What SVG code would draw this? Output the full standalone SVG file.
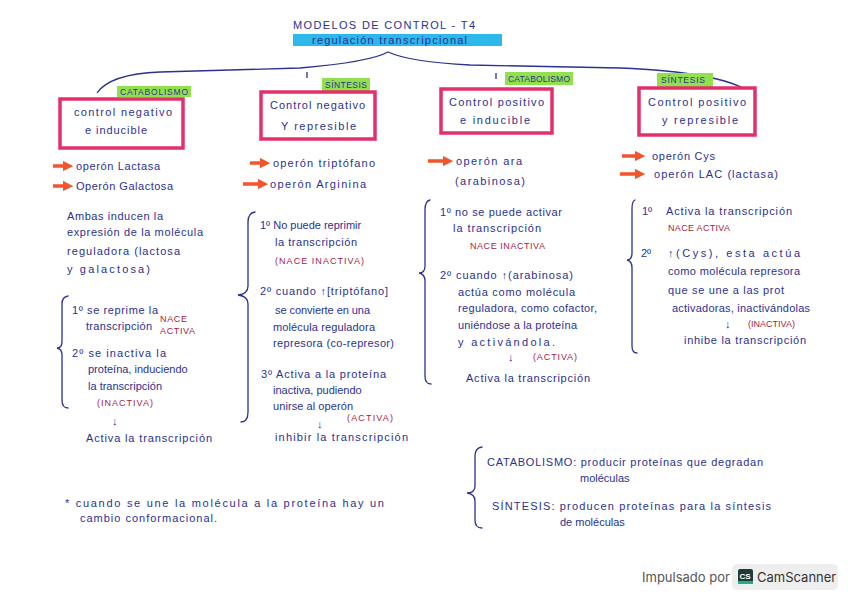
<svg xmlns="http://www.w3.org/2000/svg" width="848" height="599" viewBox="0 0 848 599">
<defs>
<style>
.t{font-family:"Liberation Sans",Arial,sans-serif;font-size:11px;fill:#2b3190}
.r{font-family:"Liberation Sans",Arial,sans-serif;font-size:9px;fill:#a3233f}
.g{font-family:"Liberation Sans",Arial,sans-serif;font-size:8.5px;fill:#2b3190}
.box{fill:#ffffff;stroke:#e3306a;stroke-width:3.5}
.hl{fill:#93e04f}
.br{fill:none;stroke:#2b3190;stroke-width:1.3;stroke-linecap:round}
.ar{stroke:#f2552b;stroke-width:3.5;fill:none}
.ln{fill:none;stroke:#2b3190;stroke-width:1.3}
</style>
<marker id="ah" viewBox="0 0 10 10" refX="5" refY="5" markerWidth="3" markerHeight="3" orient="auto"><path d="M0,0 L10,5 L0,10 z" fill="#f2552b"/></marker>
</defs>
<rect width="848" height="599" fill="#ffffff"/>

<g id="title">
<text class="t" x="293" y="29" font-size="12" textLength="182" lengthAdjust="spacing">MODELOS DE CONTROL - T4</text>
<rect x="293" y="34" width="209" height="12" fill="#2cb8ea"/>
<text class="t" x="312" y="44" textLength="155" lengthAdjust="spacing">regulación transcripcional</text>
</g>

<g id="connectors">
<path class="ln" d="M97,93 Q110,74 160,72 L300,68 Q370,62 388,52 Q410,62 470,65 L620,68 Q720,72 750,92"/>
<line class="ln" x1="307" y1="72" x2="307" y2="78"/>
<line class="ln" x1="496" y1="73" x2="496" y2="79"/>
</g>

<g id="tag-catabolismo-1"><rect class="hl" x="117" y="86" width="74" height="11"/><text class="g" x="120" y="95" textLength="68" lengthAdjust="spacing">CATABOLISMO</text></g>
<g id="tag-sintesis-1"><rect class="hl" x="322" y="78" width="48" height="13"/><text class="g" x="325" y="88" textLength="42" lengthAdjust="spacing">SÍNTESIS</text></g>
<g id="tag-catabolismo-2"><rect class="hl" x="505" y="72" width="68" height="13"/><text class="g" x="508" y="82" textLength="62" lengthAdjust="spacing">CATABOLISMO</text></g>
<g id="tag-sintesis-2"><rect class="hl" x="657" y="73" width="56" height="14"/><text class="g" x="661" y="83" textLength="44" lengthAdjust="spacing">SÍNTESIS</text></g>

<g id="box1"><rect class="box" x="60" y="99" width="123" height="49"/>
<text class="t" x="74" y="116" textLength="98" lengthAdjust="spacing">control negativo</text>
<text class="t" x="85" y="134" textLength="62" lengthAdjust="spacing">e inducible</text></g>
<g id="box2"><rect class="box" x="261" y="92" width="114" height="47"/>
<text class="t" x="270" y="109" textLength="95" lengthAdjust="spacing">Control negativo</text>
<text class="t" x="281" y="130" textLength="75" lengthAdjust="spacing">Y represible</text></g>
<g id="box3"><rect class="box" x="441" y="89" width="111" height="44"/>
<text class="t" x="449" y="106" textLength="95" lengthAdjust="spacing">Control positivo</text>
<text class="t" x="460" y="124" textLength="70" lengthAdjust="spacing">e inducible</text></g>
<g id="box4"><rect class="box" x="639" y="88" width="116" height="47"/>
<text class="t" x="648" y="106" textLength="98" lengthAdjust="spacing">Control positivo</text>
<text class="t" x="662" y="124" textLength="76" lengthAdjust="spacing">y represible</text></g>

<g id="col1">
<line class="ar" x1="53" y1="166" x2="68" y2="166" marker-end="url(#ah)"/>
<text class="t" x="76" y="170" textLength="84" lengthAdjust="spacing">operón Lactasa</text>
<line class="ar" x1="53" y1="186" x2="68" y2="186" marker-end="url(#ah)"/>
<text class="t" x="76" y="190" textLength="97" lengthAdjust="spacing">Operón Galactosa</text>
<text class="t" x="67" y="220" textLength="96" lengthAdjust="spacing">Ambas inducen la</text>
<text class="t" x="67" y="236" textLength="136" lengthAdjust="spacing">expresión de la molécula</text>
<text class="t" x="67" y="255" textLength="113" lengthAdjust="spacing">reguladora (lactosa</text>
<text class="t" x="67" y="273" textLength="83" lengthAdjust="spacing">y galactosa)</text>
<path class="br" d="M68,296 Q62,297 62,304 L62,342 Q62,348 57,348 Q62,349 62,355 L62,400 Q62,408 68,408"/>
<text class="t" x="72" y="314" textLength="86" lengthAdjust="spacing">1º se reprime la</text>
<text class="t" x="86" y="330" textLength="66" lengthAdjust="spacing">transcripción</text>
<text class="r" x="160" y="322" textLength="27" lengthAdjust="spacing">NACE</text>
<text class="r" x="160" y="334" textLength="35" lengthAdjust="spacing">ACTIVA</text>
<text class="t" x="72" y="357" textLength="94" lengthAdjust="spacing">2º se inactiva la</text>
<text class="t" x="88" y="373" font-size="10.5">proteína, induciendo</text>
<text class="t" x="88" y="390" textLength="74" lengthAdjust="spacing">la transcripción</text>
<text class="r" x="97" y="406" textLength="56" lengthAdjust="spacing">(INACTIVA)</text>
<text class="t" x="112" y="425">↓</text>
<text class="t" x="86" y="442" textLength="126" lengthAdjust="spacing">Activa la transcripción</text>
</g>

<g id="col2">
<line class="ar" x1="250" y1="163" x2="265" y2="163" marker-end="url(#ah)"/>
<text class="t" x="273" y="167" textLength="102" lengthAdjust="spacing">operón triptófano</text>
<line class="ar" x1="243" y1="184" x2="263" y2="184" marker-end="url(#ah)"/>
<text class="t" x="270" y="188" textLength="96" lengthAdjust="spacing">operón Arginina</text>
<path class="br" d="M255,212 Q248,213 248,222 L248,286 Q248,294 238,295 Q248,296 248,304 L248,412 Q248,422 241,422"/>
<text class="t" x="260" y="229">1º No puede reprimir</text>
<text class="t" x="275" y="246" textLength="82" lengthAdjust="spacing">la transcripción</text>
<text class="r" x="275" y="264" textLength="89" lengthAdjust="spacing">(NACE INACTIVA)</text>
<text class="t" x="260" y="295" textLength="128" lengthAdjust="spacing">2º cuando ↑[triptófano]</text>
<text class="t" x="275" y="314" textLength="95" lengthAdjust="spacing">se convierte en una</text>
<text class="t" x="273" y="331" textLength="102" lengthAdjust="spacing">molécula reguladora</text>
<text class="t" x="273" y="347" textLength="121" lengthAdjust="spacing">represora (co-represor)</text>
<text class="t" x="261" y="378" textLength="125" lengthAdjust="spacing">3º Activa a la proteína</text>
<text class="t" x="273" y="394">inactiva, pudiendo</text>
<text class="t" x="273" y="410" textLength="80" lengthAdjust="spacing">unirse al operón</text>
<text class="r" x="347" y="421" textLength="46" lengthAdjust="spacing">(ACTIVA)</text>
<text class="t" x="317" y="428">↓</text>
<text class="t" x="275" y="441" textLength="133" lengthAdjust="spacing">inhibir la transcripción</text>
</g>

<g id="col3">
<line class="ar" x1="428" y1="161" x2="448" y2="161" marker-end="url(#ah)"/>
<text class="t" x="456" y="165" textLength="66" lengthAdjust="spacing">operón ara</text>
<text class="t" x="455" y="185" textLength="70" lengthAdjust="spacing">(arabinosa)</text>
<path class="br" d="M430,200 Q425,201 425,210 L425,266 Q425,273 419,273 Q425,274 425,281 L425,376 Q425,384 431,384"/>
<text class="t" x="440" y="216" textLength="122" lengthAdjust="spacing">1º no se puede activar</text>
<text class="t" x="453" y="232" textLength="88" lengthAdjust="spacing">la transcripción</text>
<text class="r" x="470" y="249" textLength="75" lengthAdjust="spacing">NACE INACTIVA</text>
<text class="t" x="440" y="279" textLength="133" lengthAdjust="spacing">2º cuando ↑(arabinosa)</text>
<text class="t" x="458" y="296" textLength="117" lengthAdjust="spacing">actúa como molécula</text>
<text class="t" x="458" y="312" textLength="139" lengthAdjust="spacing">reguladora, como cofactor,</text>
<text class="t" x="458" y="329" textLength="119" lengthAdjust="spacing">uniéndose a la proteína</text>
<text class="t" x="458" y="346" textLength="97" lengthAdjust="spacing">y activándola.</text>
<text class="t" x="508" y="361">↓</text>
<text class="r" x="533" y="360" textLength="44" lengthAdjust="spacing">(ACTIVA)</text>
<text class="t" x="466" y="382" textLength="124" lengthAdjust="spacing">Activa la transcripción</text>
</g>

<g id="col4">
<line class="ar" x1="622" y1="156" x2="640" y2="156" marker-end="url(#ah)"/>
<text class="t" x="652" y="160" textLength="63" lengthAdjust="spacing">operón Cys</text>
<line class="ar" x1="620" y1="174" x2="640" y2="174" marker-end="url(#ah)"/>
<text class="t" x="654" y="178" textLength="124" lengthAdjust="spacing">operón LAC (lactasa)</text>
<path class="br" d="M635,200 Q632,201 632,209 L632,253 Q632,260 627,260 Q632,261 632,268 L632,346 Q632,353 637,353"/>
<text class="t" x="642" y="215">1º</text>
<text class="t" x="666" y="215" textLength="126" lengthAdjust="spacing">Activa la transcripción</text>
<text class="r" x="668" y="231" textLength="62" lengthAdjust="spacing">NACE ACTIVA</text>
<text class="t" x="641" y="257">2º</text>
<text class="t" x="668" y="257" textLength="132" lengthAdjust="spacing">↑(Cys), esta actúa</text>
<text class="t" x="668" y="275" textLength="132" lengthAdjust="spacing">como molécula represora</text>
<text class="t" x="668" y="294" textLength="116" lengthAdjust="spacing">que se une a las prot</text>
<text class="t" x="672" y="312" textLength="138" lengthAdjust="spacing">activadoras, inactivándolas</text>
<text class="t" x="725" y="328">↓</text>
<text class="r" x="748" y="327" textLength="47" lengthAdjust="spacing">(INACTIVA)</text>
<text class="t" x="684" y="344" textLength="122" lengthAdjust="spacing">inhibe la transcripción</text>
</g>

<g id="definitions">
<path class="br" d="M482,447 Q475,448 475,456 L475,486 Q475,493 467,493 Q475,494 475,501 L475,520 Q475,528 482,528"/>
<text class="t" x="487" y="466" textLength="276" lengthAdjust="spacing">CATABOLISMO: producir proteínas que degradan</text>
<text class="t" x="580" y="482">moléculas</text>
<text class="t" x="492" y="510" textLength="279" lengthAdjust="spacing">SÍNTESIS: producen proteínas para la síntesis</text>
<text class="t" x="560" y="526">de moléculas</text>
</g>

<g id="note">
<text class="t" x="65" y="507" textLength="319" lengthAdjust="spacing">* cuando se une la molécula a la proteína hay un</text>
<text class="t" x="80" y="522" textLength="137" lengthAdjust="spacing">cambio conformacional.</text>
</g>

<g id="camscanner">
<text x="642" y="582" font-family="Inter,'Liberation Sans',sans-serif" font-size="13" fill="#555555">Impulsado por</text>
<rect x="732" y="564" width="106" height="26" rx="5" fill="#eeeeee"/>
<rect x="738" y="569" width="15" height="15" rx="2" fill="#1d3b3a"/>
<rect x="738" y="581" width="15" height="3" fill="#1bb18c"/>
<text x="739.5" y="579" font-family="'Liberation Sans',sans-serif" font-size="8" font-weight="bold" fill="#ffffff">CS</text>
<text x="757" y="582" font-family="Inter,'Liberation Sans',sans-serif" font-size="13" fill="#333333">CamScanner</text>
</g>
</svg>
